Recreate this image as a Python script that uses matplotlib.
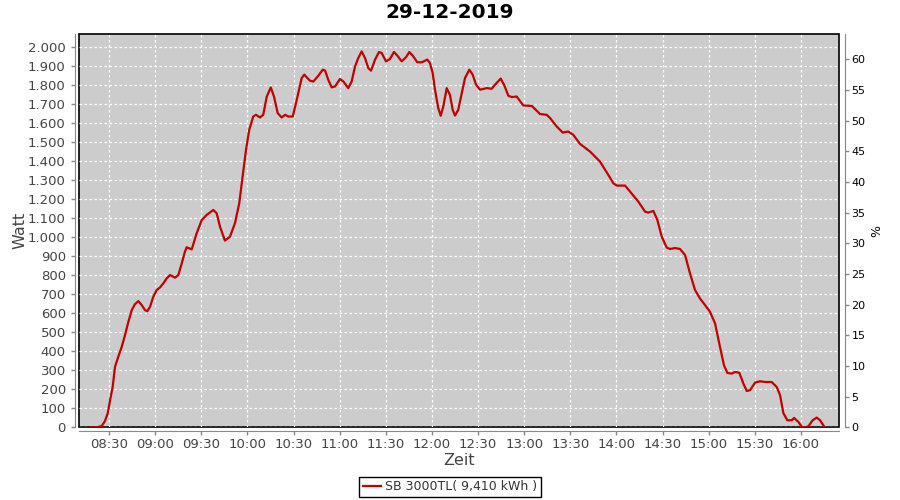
import matplotlib.pyplot as plt
from matplotlib.ticker import FuncFormatter

# minutes after midnight
minutes = [498.9, 502.2, 505.3, 507.4, 509.2, 510.7, 512.4, 513.9, 516.0, 518.3,
           520.4, 522.6, 524.8, 526.9, 529.1, 531.3, 533.4, 534.9, 536.7, 538.8,
           541.0, 543.2, 545.3, 547.5, 549.7, 552.9, 555.1, 557.3, 559.4, 560.5,
           563.8, 567.0, 570.3, 573.5, 577.8, 580.0, 582.2, 585.4, 588.7, 591.9,
           594.7, 596.9, 599.1, 601.2, 603.8, 605.6, 608.2, 610.3, 612.6, 615.2,
           617.3, 619.7, 622.3, 624.6, 626.6, 629.5, 632.1, 635.3, 637.0, 640.7,
           642.9, 646.1, 649.0, 650.5, 652.6, 654.8, 657.0, 660.2, 662.4, 665.6,
           667.8, 670.0, 672.1, 674.3, 676.5, 678.6, 680.4, 683.0, 685.6, 687.3,
           690.1, 692.7, 695.3, 697.5, 700.3, 703.1, 705.3, 707.5, 710.5, 713.4,
           717.0, 718.7, 720.5, 722.0, 724.1, 725.7, 727.4, 729.6, 731.7, 733.5,
           735.0, 737.1, 739.4, 741.5, 744.3, 746.5, 748.7, 751.3, 755.6, 758.9,
           761.0, 764.7, 766.9, 769.7, 771.9, 775.1, 779.4, 784.9, 790.3, 794.6,
           796.8, 801.1, 805.0, 808.7, 811.9, 816.3, 822.8, 829.3, 834.7, 838.0,
           840.2, 845.6, 848.8, 854.2, 858.6, 860.7, 864.0, 866.6, 869.4, 872.7,
           874.8, 878.1, 881.3, 884.6, 887.8, 891.1, 894.3, 897.6, 900.8, 904.1,
           907.3, 909.9, 912.1, 915.0, 917.1, 919.9, 922.5, 924.7, 926.9, 930.1,
           933.4, 936.6, 940.9, 944.2, 946.4, 948.5, 951.1, 954.0, 955.5, 958.3,
           960.5, 962.6, 964.8, 967.6, 970.2, 972.4, 975.0]

watt = [0, 0, 7, 33, 74, 142, 212, 317, 370, 423,
        484, 554, 616, 647, 663, 642, 616, 610, 633, 686,
        721, 735, 756, 782, 800, 786, 800, 861, 923, 946,
        935, 1019, 1089, 1116, 1142, 1125, 1054, 981, 1002, 1072,
        1177, 1317, 1458, 1563, 1633, 1642, 1628, 1642, 1738, 1786,
        1738, 1651, 1628, 1642, 1633, 1633, 1721, 1835, 1853, 1821,
        1817, 1847, 1879, 1875, 1826, 1786, 1791, 1830, 1817, 1782,
        1817, 1896, 1940, 1975, 1940, 1888, 1874, 1932, 1972, 1967,
        1923, 1935, 1972, 1953, 1923, 1944, 1972, 1953, 1918, 1918,
        1932, 1914, 1861, 1774, 1677, 1637, 1686, 1782, 1747, 1668,
        1638, 1668, 1756, 1835, 1879, 1853, 1800, 1774, 1782, 1779,
        1800, 1832, 1800, 1742, 1735, 1738, 1691, 1689, 1646, 1642,
        1625, 1581, 1549, 1554, 1537, 1489, 1449, 1396, 1326, 1282,
        1270, 1270, 1239, 1186, 1133, 1128, 1137, 1089, 1002, 944,
        937, 942, 937, 905, 809, 721, 677, 642, 607, 546,
        423, 326, 286, 282, 291, 286, 230, 191, 195, 235,
        242, 238, 238, 212, 168, 75, 37, 37, 49, 28,
        2, 0, 5, 37, 51, 37, 5]

tick_minutes = [510, 540, 570, 600, 630, 660, 690, 720, 750, 780,
                810, 840, 870, 900, 930, 960]
tick_labels = ['08:30', '09:00', '09:30', '10:00', '10:30', '11:00', '11:30', '12:00',
               '12:30', '13:00', '13:30', '14:00', '14:30', '15:00', '15:30', '16:00']
watt_ticks = list(range(0, 2001, 100))
pct_ticks = list(range(0, 61, 5))

title = '29-12-2019'
legend_label = 'SB 3000TL( 9,410 kWh )'

fig = plt.figure(figsize=(9, 5), dpi=100)
ax = fig.add_axes([79 / 900, 1 - 427.3 / 500, 760 / 900, 393 / 500])
ax.set_facecolor('#cccccc')
ax.patch.set_edgecolor('black')
ax.patch.set_linewidth(1.2)

ax.plot(minutes, watt, color='#c00000', linewidth=1.6, label=legend_label)

ax.set_xlim(490.5, 984.7)
ax.set_ylim(0, 2065)
ax.set_xticks(tick_minutes)
ax.set_xticklabels(tick_labels)
ax.set_yticks(watt_ticks)
ax.yaxis.set_major_formatter(FuncFormatter(lambda v, p: f'{int(v):,}'.replace(',', '.')))
ax.grid(True, color='white', linestyle=(0, (2, 2)), linewidth=0.9)

for side in ['left', 'bottom']:
    ax.spines[side].set_position(('outward', 3))
    ax.spines[side].set_color('#888888')
ax.spines['top'].set_visible(False)
ax.spines['right'].set_visible(False)
ax.tick_params(axis='both', colors='#888888', labelcolor='#444444', labelsize=9.5,
               length=3, width=1)
ax.tick_params(axis='x', pad=2)
ax.set_xlabel('Zeit', fontsize=11.5, color='#444444', labelpad=1)
ax.set_ylabel('Watt', fontsize=11.5, color='#444444', labelpad=0)

ax2 = ax.twinx()
ax2.set_ylim(0, 64.08)
ax2.set_yticks(pct_ticks)
for side in ['left', 'bottom', 'top']:
    ax2.spines[side].set_visible(False)
ax2.spines['right'].set_position(('outward', 4))
ax2.spines['right'].set_color('#888888')
ax2.tick_params(axis='y', colors='#888888', labelcolor='black', labelsize=8,
                length=3, width=1, pad=2)
ax2.set_ylabel('%', fontsize=9, labelpad=3)

fig.text(0.5, 1 - 13 / 500, title, ha='center', va='center', fontsize=14.5,
         fontweight='bold')

leg = fig.legend(loc='lower center', bbox_to_anchor=(0.5, 0.006), fontsize=9,
                 fancybox=False, edgecolor='black', framealpha=1, borderaxespad=0,
                 handlelength=1.5, handletextpad=0.3, borderpad=0.3)
leg.get_frame().set_linewidth(1)
for t in leg.get_texts():
    t.set_color('#333333')

fig.savefig('out.png', dpi=100)
